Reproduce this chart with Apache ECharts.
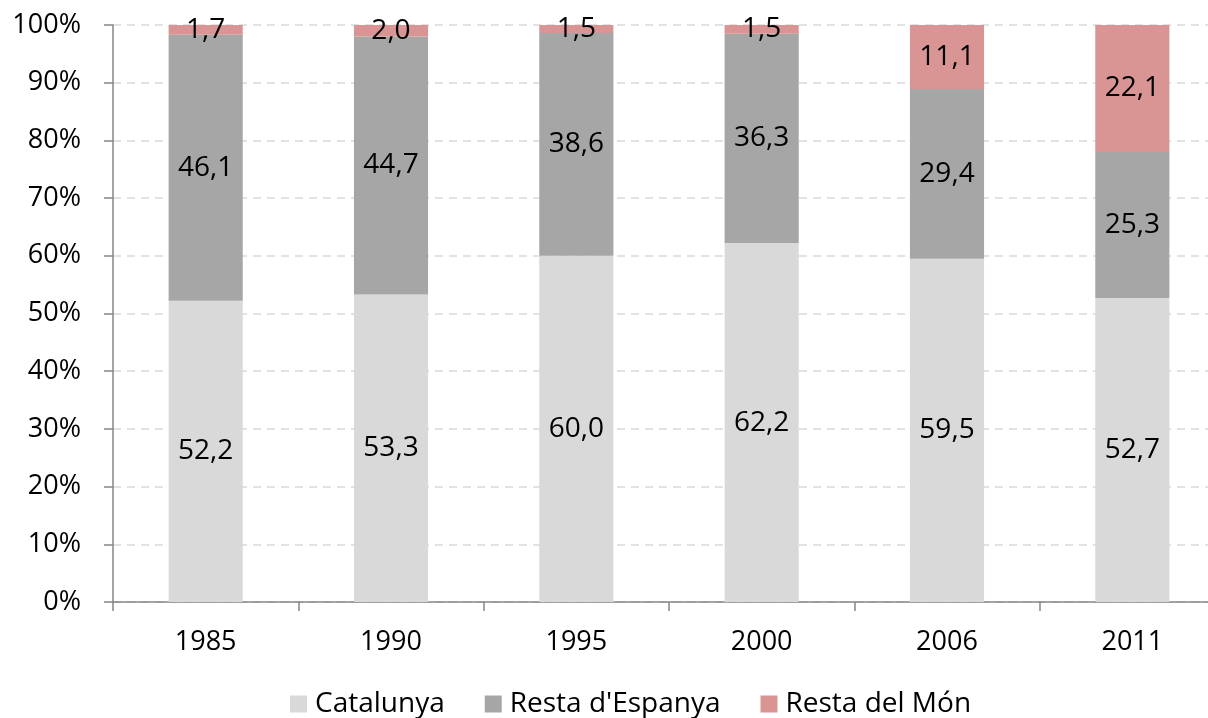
<!DOCTYPE html>
<html>
<head>
<meta charset="utf-8">
<script src="https://cdn.jsdelivr.net/npm/echarts@6/dist/echarts.min.js"></script>
<style>
html,body{margin:0;padding:0;background:#fff;}
#c1{width:1208px;height:718px;}
</style>
</head>
<body>
<div id="c1"></div>
<script type="text/javascript">
// dades (%)
var years = ['1985', '1990', '1995', '2000', '2006', '2011'];
var catalunya = [52.2, 53.3, 60.0, 62.2, 59.5, 52.7];
var restaEspanya = [46.1, 44.7, 38.6, 36.3, 29.4, 25.3];
var restaMon = [1.7, 2.0, 1.5, 1.5, 11.1, 22.1];
var yTicks = ['0%', '10%', '20%', '30%', '40%', '50%', '60%', '70%', '80%', '90%', '100%'];

var font = '"Open Sans", sans-serif';

function lbl(p) {
    return p.value.toFixed(1).replace('.', ',');
}

function serie(name, data, color) {
    return {
        name: name,
        type: 'bar',
        stack: 'total',
        barWidth: '40%',
        data: data,
        itemStyle: { color: color },
        label: {
            show: true,
            position: 'inside',
            color: '#000',
            fontSize: 28,
            fontFamily: font,
            formatter: lbl
        }
    };
}

var chart = echarts.init(document.getElementById('c1'));
var option = {
    animation: false,
    grid: {
        left: 113,
        width: 1112,
        top: 25,
        height: 577,
        outerBoundsMode: 'none'
    },
    legend: {
        top: 690,
        left: 290,
        padding: 0,
        icon: 'rect',
        itemWidth: 17,
        itemHeight: 17,
        itemGap: 40,
        textStyle: { fontSize: 28, fontFamily: font, color: '#000', padding: [0, 0, 0, 3] },
        data: ['Catalunya', "Resta d'Espanya", 'Resta del Món']
    },
    xAxis: {
        type: 'category',
        data: years,
        axisLine: { lineStyle: { color: '#868686', width: 1.5 } },
        axisTick: { show: true, length: 9, lineStyle: { color: '#868686', width: 1.5 } },
        axisLabel: { margin: 27, fontSize: 27, fontFamily: font, color: '#000' }
    },
    yAxis: {
        type: 'value',
        min: 0,
        max: 100,
        interval: 10,
        axisLine: { show: true, lineStyle: { color: '#868686', width: 1.5 } },
        axisTick: { show: true, length: 9, lineStyle: { color: '#868686', width: 1.5 } },
        axisLabel: {
            margin: 32,
            fontSize: 27,
            fontFamily: font,
            color: '#000',
            formatter: function (v) { return yTicks[Math.round(v / 10)]; }
        },
        splitLine: { show: true, lineStyle: { color: '#D9D9D9', type: [8, 6], width: 1.5 } }
    },
    series: [
        serie('Catalunya', catalunya, '#D9D9D9'),
        serie("Resta d'Espanya", restaEspanya, '#A6A6A6'),
        serie('Resta del Món', restaMon, '#D99594')
    ]
};
chart.setOption(option);
</script>
</body>
</html>
